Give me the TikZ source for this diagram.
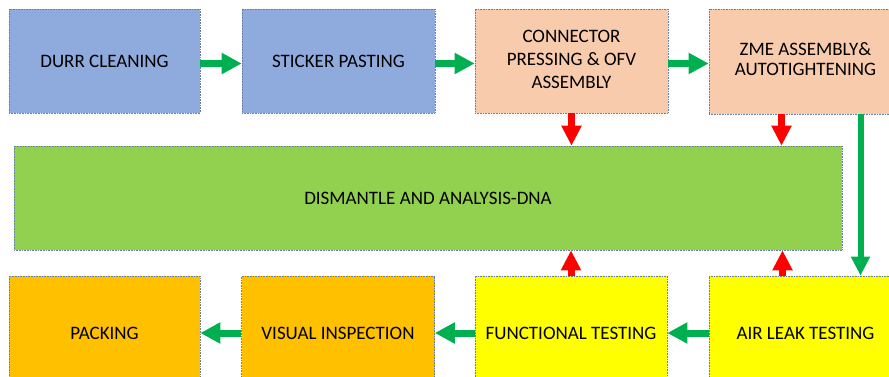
\documentclass[tikz,border=0pt]{standalone}
\usepackage{fontspec}
\setmainfont{Carlito}
\usetikzlibrary{arrows.meta}
\definecolor{bluebox}{HTML}{8FAADC}
\definecolor{peachbox}{HTML}{F8CBAD}
\definecolor{greenbox}{HTML}{92D050}
\definecolor{yellowbox}{HTML}{FFFF00}
\definecolor{orangebox}{HTML}{FFC000}
\definecolor{arrgreen}{HTML}{00B050}
\definecolor{arrred}{HTML}{FF0000}
\definecolor{edge}{HTML}{6A7FA0}
\tikzset{
  procbox/.style={draw=edge, line width=0.6pt, densely dotted, minimum width=193pt,
    minimum height=104pt, inner sep=0pt, font=\fontsize{19}{23}\selectfont, text=black},
  flowg/.style={draw=arrgreen, line width=7pt, -{Triangle[length=20pt,width=20pt]}},
  flowr/.style={draw=arrred, line width=7pt, -{Triangle[length=20pt,width=19pt]}},
  flowv/.style={draw=arrgreen, line width=6pt, -{Triangle[length=19pt,width=18pt]}},
}
\begin{document}
\begin{tikzpicture}[x=1pt,y=-1pt]
\useasboundingbox (0,0) rectangle (889,376);
\begin{scope}
\clip (0,0) rectangle (889,376);
% top row
\node[procbox, fill=bluebox, minimum width=191pt] (durr) at (104.5,61) {DURR CLEANING};
\node[procbox, fill=bluebox] (sticker) at (338.5,61) {STICKER PASTING};
\node[procbox, fill=peachbox] (conn) at (571.5,61)
  {\raisebox{-3pt}{\begin{tabular}{@{}c@{}}CONNECTOR\\PRESSING \& OFV\\ASSEMBLY\end{tabular}}};
\node[procbox, fill=peachbox, minimum height=105pt] (zme) at (805.5,61.5)
  {\raisebox{-8pt}{\fontsize{19}{20}\selectfont\begin{tabular}{@{}c@{}}ZME ASSEMBLY\&\\AUTOTIGHTENING\end{tabular}}};
% middle
\node[procbox, fill=greenbox, minimum width=828pt] (dna) at (428,198) {DISMANTLE AND ANALYSIS-DNA};
% bottom row
\node[procbox, fill=orangebox, minimum width=191pt, minimum height=114pt] (pack) at (104.5,333) {PACKING};
\node[procbox, fill=orangebox, minimum height=114pt] (visual) at (338,333) {VISUAL INSPECTION};
\node[procbox, fill=yellowbox, minimum width=192pt, minimum height=114pt] (func) at (571,333) {FUNCTIONAL TESTING};
\node[procbox, fill=yellowbox, minimum height=114pt] (air) at (805.5,333) {AIR LEAK TESTING};
\end{scope}
% helper coordinates
\coordinate (g1) at ([yshift=-2.5pt]durr.east);
\coordinate (g2) at ([yshift=-2.5pt]sticker.east);
\coordinate (g3) at ([yshift=-2.5pt]conn.east);
\coordinate (rz) at ([xshift=-24pt]zme.south);
\coordinate (gz) at ([xshift=55pt]zme.south);
\coordinate (ra) at ([xshift=-23pt]air.north);
% top row flow
\draw[flowg] (g1) -- (g1 -| sticker.west);
\draw[flowg] (g2) -- (g2 -| conn.west);
\draw[flowg] (g3) -- (g3 -| zme.west);
% down to DNA
\draw[flowr] (conn.south) -- (conn.south |- dna.north);
\draw[flowr] (rz) -- (rz |- dna.north);
% right side down
\draw[flowv] (gz) -- (gz |- air.north);
% up to DNA
\draw[flowr] (func.north) -- (func.north |- dna.south);
\draw[flowr] (ra) -- (ra |- dna.south);
% bottom row flow
\draw[flowg] (air.west) -- (func.east);
\draw[flowg] (func.west) -- (visual.east);
\draw[flowg] (visual.west) -- (pack.east);
\end{tikzpicture}
\end{document}
